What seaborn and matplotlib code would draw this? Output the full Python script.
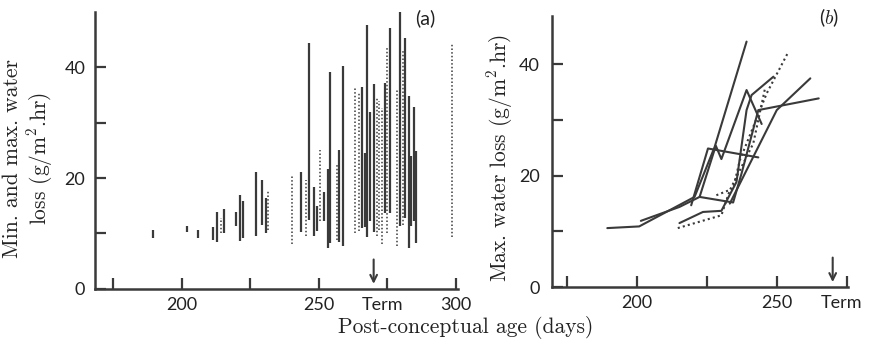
import numpy as np
import pandas as pd
import matplotlib
matplotlib.use("Agg")
import matplotlib.pyplot as plt
import seaborn as sns

# ---------------- data ----------------
# panel (a): min/max water loss per infant (vertical ranges)
a_day = [189.6, 201.8, 206.1, 211.3, 213.0, 214.5, 215.4, 220.0, 221.4, 222.5,
         227.2, 229.4, 230.6, 231.6, 240.2, 243.6, 245.5, 246.6, 248.4, 249.4,
         250.5, 252.0, 253.3, 254.2, 256.7, 257.4, 258.8, 263.2, 264.5, 265.7,
         266.7, 267.6, 268.8, 270.0, 271.1, 272.1, 273.0, 274.0, 274.9, 276.0,
         278.4, 279.5, 280.6, 281.5, 282.8, 283.7, 284.7, 285.5, 298.4]
a_min = [9.2, 10.2, 9.2, 8.9, 8.4, 10.0, 10.0, 11.3, 8.7, 9.2,
         9.6, 11.5, 10.0, 10.7, 8.1, 10.2, 9.5, 12.5, 9.5, 10.4,
         12.3, 12.3, 7.3, 8.3, 8.9, 8.4, 7.7, 10.1, 10.4, 11.0,
         11.1, 9.3, 12.2, 10.2, 9.6, 10.7, 8.1, 13.7, 10.1, 13.7,
         7.7, 11.3, 11.6, 12.8, 7.3, 11.3, 12.2, 8.3, 9.3]
a_max = [10.7, 11.4, 10.7, 11.1, 13.8, 12.8, 14.5, 13.9, 17.0, 15.9,
         21.1, 19.6, 16.4, 17.6, 20.5, 21.1, 19.7, 44.4, 18.4, 14.9,
         25.1, 17.4, 21.7, 39.1, 22.3, 25.0, 40.3, 36.3, 35.4, 36.4,
         24.6, 47.7, 32.0, 36.9, 34.6, 33.9, 32.7, 37.2, 43.6, 47.1,
         36.0, 51.0, 42.9, 45.3, 34.8, 23.9, 32.8, 24.8, 44.4]
a_dotted = [0, 0, 0, 0, 0, 1, 0, 0, 0, 0,
            0, 0, 0, 1, 1, 0, 1, 0, 0, 0,
            1, 0, 0, 0, 1, 0, 0, 1, 1, 0,
            0, 0, 0, 0, 1, 1, 1, 0, 1, 0,
            1, 0, 1, 0, 0, 0, 0, 0, 1]

# panel (b): max water loss, serial measurements per infant
b1_day = [189.4, 200.8, 220.6, 227.8, 239.2]
b1_val = [10.6, 10.9, 16.2, 25.2, 44.1]
b2_day = [201.4, 215.2, 222.4, 228.2, 230.2, 239.2, 244.6]
b2_val = [11.9, 14.4, 16.2, 25.4, 23.0, 35.4, 29.3]
b3_day = [219.4, 225.4, 243.4]
b3_val = [14.7, 24.9, 23.3]
b4_day = [215.2, 223.6, 230.2, 235.6, 239.2, 241.0, 248.8]
b4_val = [11.5, 13.5, 13.7, 18.9, 31.8, 34.5, 37.8]
b5_day = [222.4, 234.4, 237.4, 243.4, 265.0]
b5_val = [16.2, 15.2, 20.4, 31.8, 33.9]
b6_day = [233.2, 243.4, 250.0, 262.0]
b6_val = [15.0, 25.2, 31.8, 37.5]
b7_day = [214.6, 230.2, 233.2, 241.6, 245.8]   # dotted
b7_val = [10.6, 12.9, 17.4, 25.8, 35.7]
b8_day = [228.4, 234.4, 236.8, 246.4, 254.2]   # dotted
b8_val = [16.5, 17.7, 22.8, 34.8, 42.3]

term_day = 270
ytick_vals = [0, 10, 20, 30, 40]
ytick_labels = ["0", "", "20", "", "40"]

# ---------------- style ----------------
sns.set_style("ticks")
plt.rcParams["font.family"] = ["Lato", "DejaVu Sans"]
plt.rcParams["mathtext.fontset"] = "cm"

ink = "#3a3a3a"
fig = plt.figure(figsize=(8.71, 3.48), dpi=100)
axA = fig.add_axes([0.109, 0.170, 0.417, 0.796])
axB = fig.add_axes([0.634, 0.175, 0.340, 0.779])

# panel (a)
dfa = pd.DataFrame({"day": a_day, "lo": a_min, "hi": a_max, "isdot": a_dotted})
sol = dfa[dfa["isdot"] == 0]
dot = dfa[dfa["isdot"] == 1]
axA.vlines(sol["day"], sol["lo"], sol["hi"], colors=ink, lw=1.6)
axA.vlines(dot["day"], dot["lo"], dot["hi"], colors=ink, lw=1.1, linestyles=[(0, (1, 1.4))])

# panel (b)
rows = []
for i, (d, v, k) in enumerate([(b1_day, b1_val, "s"), (b2_day, b2_val, "s"),
                               (b3_day, b3_val, "s"), (b4_day, b4_val, "s"),
                               (b5_day, b5_val, "s"), (b6_day, b6_val, "s"),
                               (b7_day, b7_val, "d"), (b8_day, b8_val, "d")]):
    for x, y in zip(d, v):
        rows.append({"id": i, "day": x, "val": y, "kind": k})
dfb = pd.DataFrame(rows)
sns.lineplot(data=dfb, x="day", y="val", units="id", estimator=None, style="kind",
             dashes={"s": "", "d": (1, 1.5)}, color=ink, lw=1.5, sort=False,
             legend=False, ax=axB)

label_font = dict(family="cmr10", fontsize=15.5, color="#222")

for ax, xlim, ylim, xt, xtl in [
        (axA, (168.4, 300.8), (0, 50), [175, 200, 225, 250, 275, 300], ["", "200", "", "250", "", "300"]),
        (axB, (169.7, 275.6), (0, 48.7), [175, 200, 225, 250, 275], ["", "200", "", "250", ""])]:
    ax.set_xlim(*xlim)
    ax.set_ylim(*ylim)
    ax.set_xticks(xt, labels=xtl)
    ax.set_xticks([term_day + 3.3], labels=["Term"], minor=True)
    ax.set_yticks(ytick_vals, labels=ytick_labels)
    ax.tick_params(which="major", direction="in", length=8, width=1.6, colors=ink,
                   labelsize=13, labelcolor="#222", pad=6)
    ax.tick_params(which="minor", axis="x", length=0, labelsize=13,
                   labelcolor="#222", pad=6)
    for s in ["top", "right"]:
        ax.spines[s].set_visible(False)
    for s in ["left", "bottom"]:
        ax.spines[s].set_linewidth(1.8)
        ax.spines[s].set_color(ink)
    ax.set_xlabel("")
    ax.annotate("", xy=(term_day, 0.4), xytext=(term_day, 5.8),
                arrowprops=dict(arrowstyle="->", color=ink, lw=1.5,
                                mutation_scale=12))

axA.tick_params(axis="y", pad=7)
axB.tick_params(axis="y", pad=9)

axA.set_ylabel("Min. and max. water\nloss (g/m$^2$.hr)", linespacing=1.15, **label_font)
axA.yaxis.set_label_coords(-0.11, 0.47)
axB.set_ylabel("Max. water loss (g/m$^2$.hr)", **label_font)
axB.yaxis.set_label_coords(-0.125, 0.476)

fig.text(425 / 871, 1 - 18 / 348, "(a)", fontsize=14, ha="center", va="center",
         color="#222")
fig.text(829 / 871, 1 - 18 / 348, "($\\mathit{b}$)", fontsize=14, ha="center",
         va="center", color="#222")

fig.text(0.535, 0.06, "Post-conceptual age (days)", ha="center", va="center",
         **label_font)

fig.savefig("out.png", dpi=100, facecolor="white")
